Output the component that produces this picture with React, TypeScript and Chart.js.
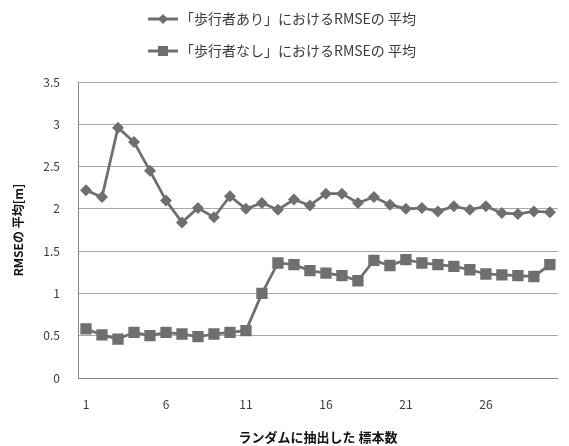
import React, { useEffect, useRef } from "react";
import { Chart, registerables } from "chart.js";

Chart.register(...registerables);

// Number of randomly drawn samples (category axis)
const sampleCounts = [
  "1", "2", "3", "4", "5", "6", "7", "8", "9", "10",
  "11", "12", "13", "14", "15", "16", "17", "18", "19", "20",
  "21", "22", "23", "24", "25", "26", "27", "28", "29", "30",
];

// Mean RMSE [m] with pedestrians present
const rmseWithPedestrians = [
  2.22, 2.14, 2.96, 2.79, 2.45, 2.10, 1.84, 2.01, 1.90, 2.15,
  2.00, 2.07, 1.99, 2.11, 2.04, 2.18, 2.18, 2.07, 2.14, 2.05,
  2.00, 2.01, 1.97, 2.03, 1.99, 2.03, 1.95, 1.94, 1.97, 1.96,
];

// Mean RMSE [m] without pedestrians
const rmseWithoutPedestrians = [
  0.58, 0.51, 0.46, 0.54, 0.50, 0.54, 0.52, 0.49, 0.52, 0.54,
  0.56, 1.00, 1.36, 1.34, 1.27, 1.24, 1.21, 1.15, 1.39, 1.33,
  1.40, 1.36, 1.34, 1.32, 1.28, 1.23, 1.22, 1.21, 1.20, 1.34,
];

const seriesLabels = [
  "「歩行者あり」におけるRMSEの 平均",
  "「歩行者なし」におけるRMSEの 平均",
];

const yTicks = { min: 0, max: 3.5, step: 0.5 };
const xTitle = "ランダムに抽出した 標本数";
const yTitle = "RMSEの 平均[m]";

const FONT = '"Noto Sans CJK JP", "Noto Sans", sans-serif';
const SERIES_COLOR = "#6f6f6f";
const TEXT_COLOR = "#3a3a3a";

// Two-row legend drawn above the plot area
const stackedLegend = {
  id: "stackedLegend",
  afterDraw(chart: any) {
    const ctx = chart.ctx as CanvasRenderingContext2D;
    chart.data.datasets.forEach((ds: any, i: number) => {
      const y = 19 + i * 32;
      const x0 = 148;
      const x1 = 178;
      const cx = (x0 + x1) / 2;
      ctx.save();
      ctx.strokeStyle = ds.borderColor;
      ctx.lineWidth = 3;
      ctx.beginPath();
      ctx.moveTo(x0, y);
      ctx.lineTo(x1, y);
      ctx.stroke();
      ctx.fillStyle = ds.pointBackgroundColor;
      ctx.beginPath();
      if (ds.pointStyle === "rectRot") {
        const r = 5;
        ctx.moveTo(cx - r, y);
        ctx.lineTo(cx, y - r);
        ctx.lineTo(cx + r, y);
        ctx.lineTo(cx, y + r);
        ctx.closePath();
      } else {
        const h = 5;
        ctx.rect(cx - h, y - h, h * 2, h * 2);
      }
      ctx.fill();
      ctx.fillStyle = TEXT_COLOR;
      ctx.font = `14px ${FONT}`;
      ctx.textAlign = "left";
      ctx.textBaseline = "middle";
      ctx.fillText(ds.label, x1 + 2, y);
      ctx.restore();
    });
  },
};

export default function App() {
  const canvasRef = useRef<HTMLCanvasElement | null>(null);

  useEffect(() => {
    const canvas = canvasRef.current;
    if (!canvas) return;
    const chart = new Chart(canvas, {
      type: "line",
      data: {
        labels: sampleCounts,
        datasets: [
          {
            label: seriesLabels[0],
            data: rmseWithPedestrians,
            borderColor: SERIES_COLOR,
            backgroundColor: SERIES_COLOR,
            pointBackgroundColor: SERIES_COLOR,
            pointBorderColor: SERIES_COLOR,
            pointBorderWidth: 0,
            pointStyle: "rectRot",
            pointRadius: 6,
            borderWidth: 2.75,
            tension: 0,
          },
          {
            label: seriesLabels[1],
            data: rmseWithoutPedestrians,
            borderColor: SERIES_COLOR,
            backgroundColor: SERIES_COLOR,
            pointBackgroundColor: SERIES_COLOR,
            pointBorderColor: SERIES_COLOR,
            pointBorderWidth: 0,
            pointStyle: "rect",
            pointRadius: 8,
            borderWidth: 2.75,
            tension: 0,
          },
        ],
      },
      options: {
        responsive: false,
        animation: false,
        devicePixelRatio: 1,
        layout: { padding: { top: 82, right: 1, left: 0, bottom: 0 } },
        plugins: {
          legend: { display: false },
          tooltip: { enabled: false },
        },
        scales: {
          x: {
            type: "category",
            offset: true,
            grid: { display: false, drawTicks: false },
            border: { display: true, color: "#868686", width: 1 },
            ticks: {
              autoSkip: false,
              maxRotation: 0,
              padding: 19,
              color: TEXT_COLOR,
              font: { family: FONT, size: 12 },
              callback: (_v: any, index: number) =>
                index % 5 === 0 ? sampleCounts[index] : "",
            },
            title: {
              display: true,
              text: xTitle,
              color: "#111",
              font: { family: FONT, size: 13, weight: "bold" },
              padding: { top: 0, bottom: 1 },
            },
            afterFit: (s: any) => {
              s.height = 68;
            },
          },
          y: {
            min: yTicks.min,
            max: yTicks.max,
            grid: { color: "#a8a8a8", lineWidth: 1, drawTicks: false },
            border: { display: true, color: "#868686", width: 1 },
            ticks: {
              stepSize: yTicks.step,
              padding: 18,
              color: TEXT_COLOR,
              font: { family: FONT, size: 12 },
              callback: (v: any) => String(Math.round(Number(v) * 10) / 10),
            },
            title: {
              display: true,
              text: yTitle,
              color: "#111",
              font: { family: FONT, size: 12, weight: "bold" },
              padding: { top: 11, bottom: 0 },
            },
            afterFit: (s: any) => {
              s.width = 78;
            },
          },
        },
      },
      plugins: [stackedLegend],
    });
    return () => chart.destroy();
  }, []);

  return (
    <div style={{ position: "absolute", left: 0, top: 0, width: 569, height: 446, background: "#fff" }}>
      <canvas ref={canvasRef} width={569} height={446} style={{ display: "block" }} />
    </div>
  );
}
